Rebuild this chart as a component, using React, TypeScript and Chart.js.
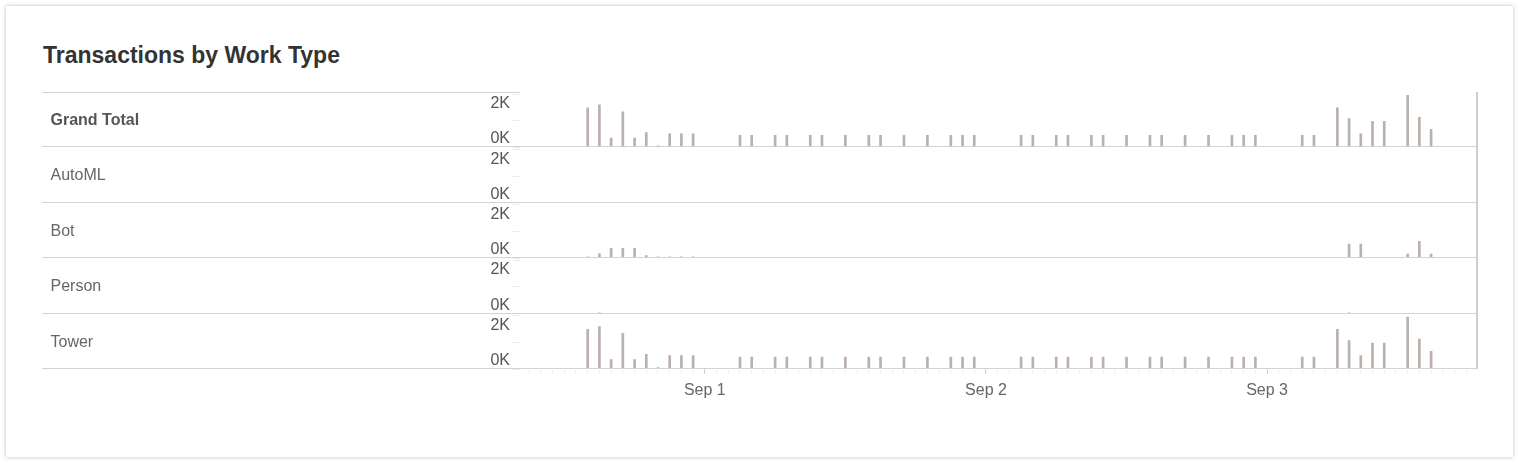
import { useEffect, useRef } from 'react';
import { Chart, registerables } from 'chart.js';

Chart.register(...registerables);

const FONT = '"Liberation Sans", Arial, Helvetica, sans-serif';

const workTypes = ['Grand Total', 'AutoML', 'Bot', 'Person', 'Tower'];

// Hourly buckets, as hours counted from Aug 31 00:00
const hourBuckets = [
  14, 15, 16, 17, 18, 19, 20, 21, 22, 23,
  27, 28, 30, 31, 33, 34, 36, 38, 39, 41, 43, 45, 46, 47,
  51, 52, 54, 55, 57, 58, 60, 62, 63, 65, 67, 69, 70, 71,
  75, 76, 78, 79, 80, 81, 82, 84, 85, 86,
];

const grandTotal = [
  1490, 1600, 350, 1340, 350, 555, 60, 505, 505, 505,
  450, 450, 450, 450, 450, 450, 450, 450, 450, 450, 450, 450, 450, 450,
  450, 450, 450, 450, 450, 450, 450, 450, 450, 450, 450, 450, 450, 450,
  450, 450, 1490, 1080, 505, 975, 975, 1955, 1125, 675,
];

const automl = [
  0, 0, 0, 0, 0, 0, 0, 0, 0, 0,
  0, 0, 0, 0, 0, 0, 0, 0, 0, 0, 0, 0, 0, 0,
  0, 0, 0, 0, 0, 0, 0, 0, 0, 0, 0, 0, 0, 0,
  0, 0, 0, 0, 0, 0, 0, 0, 0, 0,
];

const bot = [
  50, 160, 375, 375, 375, 100, 50, 50, 50, 50,
  0, 0, 0, 0, 0, 0, 0, 0, 0, 0, 0, 0, 0, 0,
  0, 0, 0, 0, 0, 0, 0, 0, 0, 0, 0, 0, 0, 0,
  0, 0, 0, 530, 530, 0, 0, 150, 630, 150,
];

const person = [
  0, 25, 0, 0, 0, 0, 0, 0, 0, 0,
  0, 0, 0, 0, 0, 0, 0, 0, 0, 0, 0, 0, 0, 0,
  0, 0, 0, 0, 0, 0, 0, 0, 0, 0, 0, 0, 0, 0,
  0, 0, 0, 25, 0, 0, 0, 0, 0, 0,
];

const tower = [
  1490, 1590, 350, 1340, 350, 555, 55, 500, 500, 500,
  450, 450, 450, 450, 450, 450, 450, 450, 450, 450, 450, 450, 450, 450,
  450, 450, 450, 450, 450, 450, 450, 450, 450, 450, 450, 450, 450, 450,
  450, 450, 1490, 1065, 500, 975, 975, 1950, 1125, 665,
];

const seriesValues = [grandTotal, automl, bot, person, tower];

// Day boundaries on the hour axis and their labels
const dayTicks = [24, 48, 72];
const dayLabels = ['Sep 1', 'Sep 2', 'Sep 3'];

// Value-axis ticks per row; only the ends are labelled
const yTickValues = [0, 1000, 2000];
const yLabelledTicks = [2000, 0];
const formatK = (v: number) => `${v / 1000}K`;

const BAR_COLOR = '#bab0ac';

const rowFramePlugin = {
  id: 'rowFrame',
  afterDraw(chart: any) {
    const { ctx, chartArea } = chart;
    const ids = workTypes.map((_, i) => `y${i}`);
    ctx.save();

    // Row separators: top rule over the header column, then one under every row
    ctx.strokeStyle = '#d3d3d3';
    ctx.lineWidth = 1;
    ctx.beginPath();
    const topY = Math.round(chartArea.top) + 0.5;
    ctx.moveTo(0, topY);
    ctx.lineTo(chartArea.left, topY);
    ids.forEach((id) => {
      const s = chart.scales[id];
      const y = Math.round(s.bottom) - 0.5;
      ctx.moveTo(0, y);
      ctx.lineTo(chartArea.right, y);
    });
    ctx.stroke();

    // Right edge of the plot panes
    ctx.strokeStyle = '#cdcdcd';
    ctx.lineWidth = 2;
    ctx.beginPath();
    ctx.moveTo(chartArea.right, chartArea.top);
    ctx.lineTo(chartArea.right, chartArea.bottom);
    ctx.stroke();

    // Axis end labels, kept inside each row
    ctx.font = `16px ${FONT}`;
    ctx.fillStyle = '#555555';
    ctx.textAlign = 'right';
    ctx.textBaseline = 'alphabetic';
    ids.forEach((id) => {
      const s = chart.scales[id];
      const [hi, lo] = yLabelledTicks;
      ctx.fillText(formatK(hi), chartArea.left - 10, s.getPixelForValue(hi) + 14);
      ctx.fillText(formatK(lo), chartArea.left - 10, s.getPixelForValue(lo) - 4);
    });

    // Row headers
    ctx.textAlign = 'left';
    workTypes.forEach((name, i) => {
      const s = chart.scales[ids[i]];
      ctx.font = `${i === 0 ? 'bold ' : ''}16px ${FONT}`;
      ctx.fillStyle = i === 0 ? '#555555' : '#666666';
      ctx.fillText(name, 8.5, s.top + 33);
    });

    ctx.restore();
  },
};

export default function App() {
  const canvasRef = useRef<HTMLCanvasElement>(null);

  useEffect(() => {
    const canvas = canvasRef.current;
    if (!canvas) return;

    const datasets = workTypes.map((name, i) => ({
      label: name,
      yAxisID: `y${i}`,
      xAxisID: 'x',
      data: hourBuckets
        .map((h, j) => ({ x: h, y: seriesValues[i][j] }))
        .filter((p) => p.y > 0),
      backgroundColor: BAR_COLOR,
      borderWidth: 0,
      barThickness: 2,
      grouped: false,
    }));

    const scales: any = {
      x: {
        type: 'linear',
        position: 'bottom',
        min: 8.22,
        max: 89.92,
        offset: false,
        afterBuildTicks: (s: any) => {
          const t: { value: number }[] = [];
          for (let h = 9; h <= 89; h++) t.push({ value: h });
          s.ticks = t;
        },
        afterFit: (s: any) => {
          s.height = 41;
        },
        grid: {
          drawOnChartArea: false,
          drawTicks: true,
          tickLength: 5,
          offset: false,
          tickColor: (c: any) => (c.tick && dayTicks.includes(c.tick.value) ? '#d0d0d0' : '#f0f0f0'),
        },
        border: { display: false },
        ticks: {
          autoSkip: false,
          maxRotation: 0,
          minRotation: 0,
          padding: 7,
          color: '#666666',
          font: { family: FONT, size: 16 },
          callback: (v: number) => {
            const k = dayTicks.indexOf(v);
            return k >= 0 ? dayLabels[k] : '';
          },
        },
      },
    };

    workTypes.forEach((_, i) => {
      scales[`y${i}`] = {
        type: 'linear',
        position: 'left',
        stack: 'rows',
        stackWeight: 1,
        weight: workTypes.length - i,
        min: 0,
        max: 2080,
        afterBuildTicks: (s: any) => {
          s.ticks = yTickValues.map((v) => ({ value: v }));
        },
        afterFit: (s: any) => {
          s.width = 478;
        },
        grid: {
          drawOnChartArea: false,
          drawTicks: true,
          tickLength: 7,
          tickColor: '#ebebeb',
        },
        border: { display: false },
        ticks: { display: false },
      };
    });

    const chart = new Chart(canvas, {
      type: 'bar',
      data: { datasets } as any,
      options: {
        animation: false,
        responsive: false,
        devicePixelRatio: 1,
        layout: { padding: { left: 0, right: 20, top: 0, bottom: 0 } },
        plugins: {
          legend: { display: false },
          tooltip: { enabled: false },
        },
        scales,
      } as any,
      plugins: [rowFramePlugin],
    });

    return () => chart.destroy();
  }, []);

  return (
    <div
      style={{
        position: 'fixed',
        left: 0,
        top: 0,
        width: 1519,
        height: 463,
        background: '#ffffff',
        overflow: 'hidden',
      }}
    >
      <div
        style={{
          position: 'absolute',
          left: 6,
          top: 6,
          width: 1507,
          height: 451,
          background: '#ffffff',
          boxShadow: '0 0 4px rgba(0,0,0,0.28)',
        }}
      />
      <div
        style={{
          position: 'absolute',
          left: 43,
          top: 44,
          font: `bold 23px/23px ${FONT}`,
          color: '#333333',
          whiteSpace: 'nowrap',
        }}
      >
        Transactions by Work Type
      </div>
      <canvas
        ref={canvasRef}
        width={1455}
        height={318}
        style={{ position: 'absolute', left: 42, top: 92, width: 1455, height: 318 }}
      />
    </div>
  );
}
